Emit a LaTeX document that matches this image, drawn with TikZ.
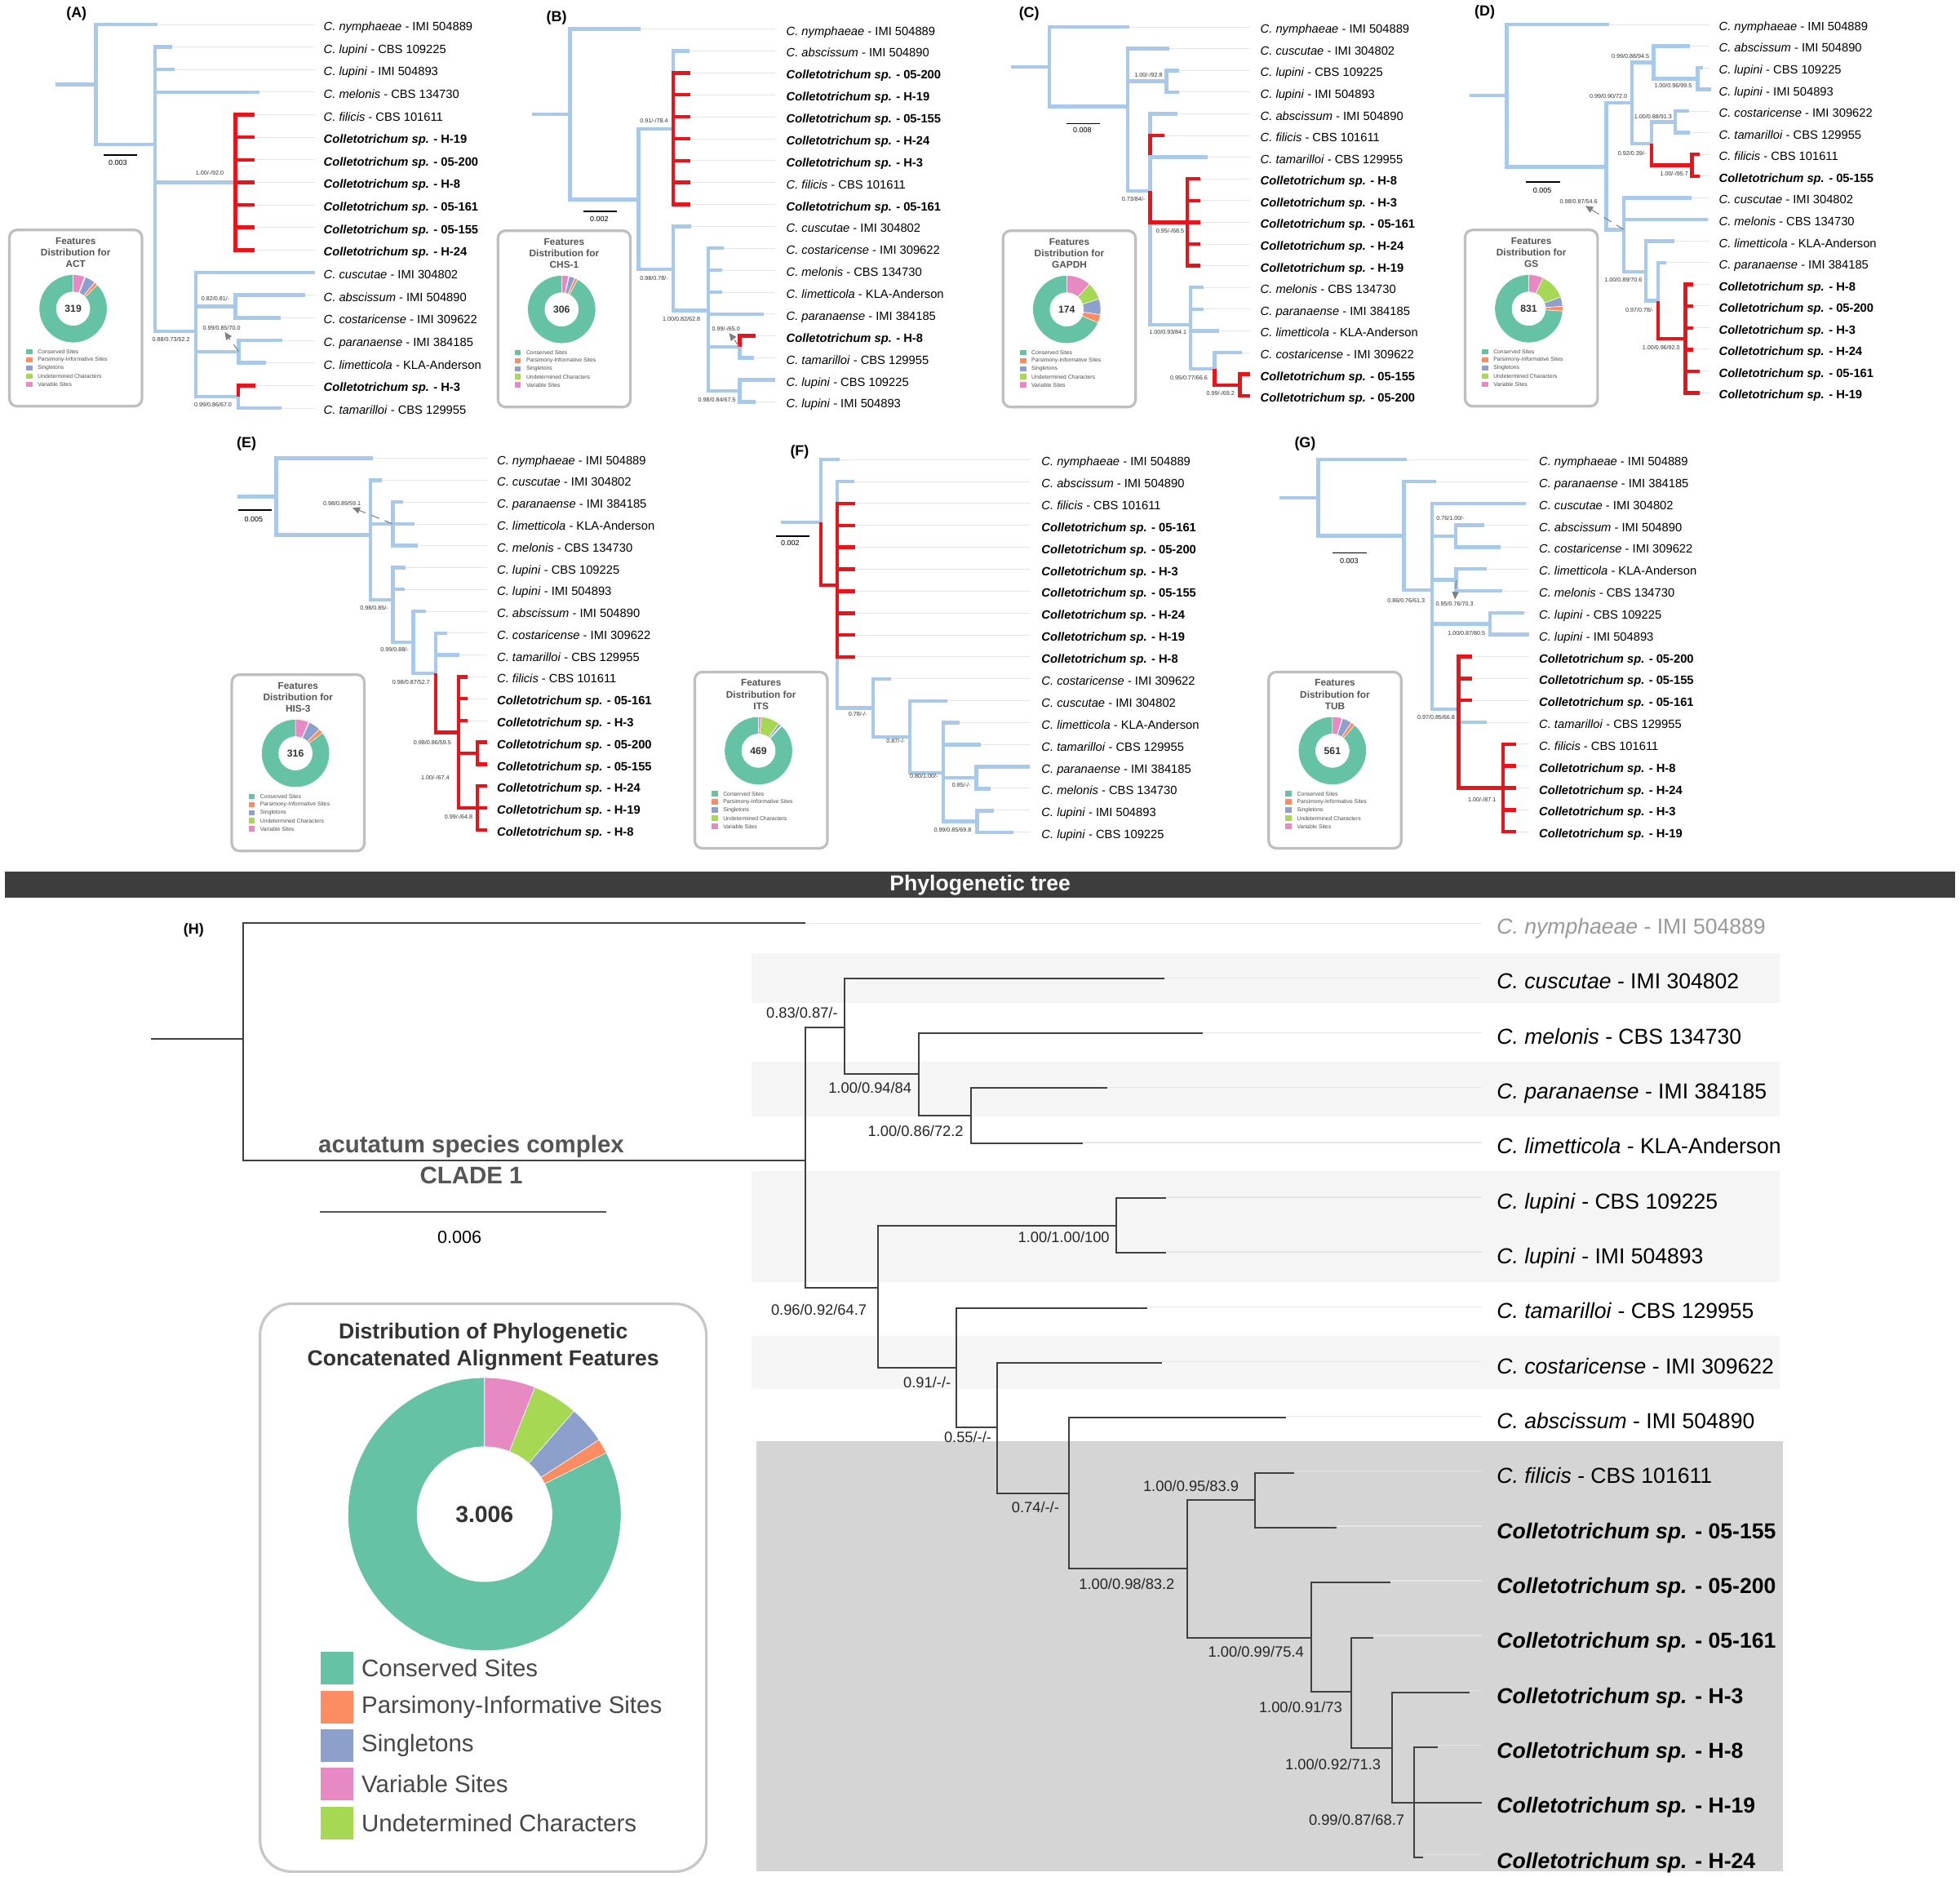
\documentclass[tikz,border=0pt]{standalone}
\usepackage{fontspec}
\setmainfont{Liberation Sans}
\usetikzlibrary{arrows.meta,positioning,calc}

\definecolor{treeblue}{HTML}{A9C9EA}
\definecolor{treered}{HTML}{E8141B}
\definecolor{cteal}{HTML}{66C2A5}
\definecolor{corange}{HTML}{FC8D62}
\definecolor{cblue}{HTML}{8DA0CB}
\definecolor{cpink}{HTML}{E78AC3}
\definecolor{cgreen}{HTML}{A6D854}
\definecolor{barc}{HTML}{3D3D3D}
\definecolor{stripe}{HTML}{F5F5F5}
\definecolor{cladegrey}{HTML}{D5D5D5}
\definecolor{txtgrey}{HTML}{555555}

\newcommand\spname[2]{\textit{C. #1} - #2}
\newcommand\isolate[1]{\textbf{\textit{Colletotrichum sp.} - #1}}

% one tip of a tree: name, row, end of branch, label
\newcommand\tleaf[4]{%
  \coordinate (#1) at (#3,#2);
  \coordinate (#1g) at (\gx,#2);
  \draw[guide] (#1) -- (#1g);
  \node[leaflab] (#1t) at (\tx,#2) {#4};}

% support value at a node
\newcommand\bsv[4]{\node[bsup] (#1) at (#2,#3) {#4};}

% one slice of a ring: centre, outer r, inner r, from, to, colour
\newcommand\ringseg[6]{%
  \filldraw[fill=#6, draw=white, line width=0.15pt]
    ([shift={(#4:#2)}]#1) arc[start angle=#4, end angle=#5, radius=#2]
    -- ([shift={(#5:#3)}]#1) arc[start angle=#5, end angle=#4, radius=#3] -- cycle;}

% ring chart: centre, outer r, inner r, variable, undetermined, singletons, parsimony
\newcommand\donut[7]{%
  \pgfmathsetmacro\dA{90-#4}\pgfmathsetmacro\dB{\dA-#5}%
  \pgfmathsetmacro\dC{\dB-#6}\pgfmathsetmacro\dD{\dC-#7}%
  \ringseg{#1}{#2}{#3}{\dD}{-270}{cteal}
  \ringseg{#1}{#2}{#3}{90}{\dA}{cpink}
  \ringseg{#1}{#2}{#3}{\dA}{\dB}{cgreen}
  \ringseg{#1}{#2}{#3}{\dB}{\dC}{cblue}
  \ringseg{#1}{#2}{#3}{\dC}{\dD}{corange}}

% small box with the features of one gene: name, x, y, gene, total, four slices
\newcommand\featbox[9]{%
  \node[fbox] (#1) at (#2,#3) {};
  \node[ftitle, below=0.1cm of #1.north] (#1t) {Features\\Distribution for\\#4};
  \coordinate (#1c) at ($(#1.north west)+(52,64)$);
  \donut{#1c}{0.408cm}{0.201cm}{#6}{#7}{#8}{#9}
  \node[fnum] (#1n) at (#1c) {#5};
  \foreach \k/\col/\txt in {0/cteal/Conserved Sites,1/corange/Parsimony-Informative Sites,2/cblue/Singletons,3/cgreen/Undetermined Characters,4/cpink/Variable Sites} {
    \node[fkey, fill=\col] (#1k\k) at ($(#1.north west)+(17,98.5+6.5*\k)$) {};
    \node[flegend, right=0.05cm of #1k\k] (#1l\k) {\txt};
  }}

\begin{document}
\begin{tikzpicture}[x=0.015cm, y=-0.015cm,
    br/.style={draw=treeblue, line width=1.25pt},
    rd/.style={draw=treered, line width=1.25pt},
    guide/.style={draw=black!10, line width=0.2pt},
    leaflab/.style={anchor=base west, inner sep=0pt, font=\fontsize{4.1}{5}\selectfont, yshift=-0.074cm},
    bsup/.style={inner sep=0.5pt, text=black!80, font=\fontsize{2}{2.4}\selectfont},
    plab/.style={inner sep=0pt, font=\bfseries\fontsize{5}{6}\selectfont},
    sbar/.style={draw=black, line width=0.5pt},
    slab/.style={inner sep=0pt, font=\fontsize{2.5}{3}\selectfont},
    darr/.style={draw=black!50, densely dashed, line width=0.3pt, -{Triangle[length=0.9mm, width=0.8mm]}},
    fbox/.style={draw=black!25, line width=0.9pt, rounded corners=0.09cm, anchor=north west,
      minimum width=1.59cm, minimum height=2.115cm, inner sep=0pt},
    ftitle/.style={align=center, inner sep=0pt, text=txtgrey, font=\bfseries\fontsize{3.3}{3.95}\selectfont},
    fnum/.style={inner sep=0pt, text=black!80, font=\bfseries\fontsize{3.4}{4}\selectfont},
    fkey/.style={minimum width=0.075cm, minimum height=0.066cm, inner sep=0pt},
    flegend/.style={inner sep=0pt, text=black!70, font=\fontsize{1.9}{2.2}\selectfont},
    hbr/.style={draw=black!75, line width=0.55pt},
    hsup/.style={inner sep=0.5pt, text=black!85, font=\fontsize{5.1}{6}\selectfont},
    bar/.style={fill=barc, text=white, minimum width=23.4cm, minimum height=0.31cm, inner sep=0pt,
      font=\bfseries\fontsize{7.4}{8}\selectfont},
    clade/.style={inner sep=0pt, text=txtgrey, font=\bfseries\fontsize{8.2}{9}\selectfont},
    hbox/.style={draw=black!22, line width=0.9pt, rounded corners=0.375cm, anchor=north west,
      minimum width=5.355cm, minimum height=6.813cm, inner sep=0pt},
    htitle/.style={align=center, inner sep=0pt, text=black!80, font=\bfseries\fontsize{7.4}{9.3}\selectfont},
    hkey/.style={minimum size=0.39cm, inner sep=0pt},
    hlegend/.style={inner sep=0pt, text=black!72, font=\fontsize{8.2}{9}\selectfont}]

\fill[white] (0,0) rectangle (1568,1501);
\useasboundingbox (0,0) rectangle (1568,1501);

% ---------- (A) ACT
\node[plab] (pA) at (61.2,10.8) {(A)};
\def\gx{251.7}\def\tx{258.5}
\begin{scope}[shift={(0,19.5)}, yscale=18.05]
  \tleaf{a0}{0}{125.7}{\spname{nymphaeae}{IMI 504889}}
  \tleaf{a1}{1}{138}{\spname{lupini}{CBS 109225}}
  \tleaf{a2}{2}{139.4}{\spname{lupini}{IMI 504893}}
  \tleaf{a3}{3}{207.3}{\spname{melonis}{CBS 134730}}
  \tleaf{a4}{4}{203.4}{\spname{filicis}{CBS 101611}}
  \tleaf{a5}{5}{203.4}{\isolate{H-19}}
  \tleaf{a6}{6}{203.4}{\isolate{05-200}}
  \tleaf{a7}{7}{203.4}{\isolate{H-8}}
  \tleaf{a8}{8}{203.4}{\isolate{05-161}}
  \tleaf{a9}{9}{203.4}{\isolate{05-155}}
  \tleaf{a10}{10}{203.4}{\isolate{H-24}}
  \tleaf{a11}{11}{251.7}{\spname{cuscutae}{IMI 304802}}
  \tleaf{a12}{12}{244}{\spname{abscissum}{IMI 504890}}
  \tleaf{a13}{13}{224.6}{\spname{costaricense}{IMI 309622}}
  \tleaf{a14}{14}{226}{\spname{paranaense}{IMI 384185}}
  \tleaf{a15}{15}{213}{\spname{limetticola}{KLA-Anderson}}
  \tleaf{a16}{16}{204.4}{\isolate{H-3}}
  \tleaf{a17}{17}{225.3}{\spname{tamarilloi}{CBS 129955}}
  \coordinate (aS) at (44.4,2.66);
  \coordinate (aR) at (76.7,2.66);
  \coordinate (aN1) at (123.9,5.32);
  \coordinate (aC) at (188.4,7);
  \coordinate (aN2) at (156.7,13.6);
  \coordinate (aN3) at (188.4,12.5);
  \coordinate (aN4) at (191,14.5);
  \coordinate (aN5) at (190.5,16.5);
\end{scope}
\draw[br] (aS) -- (aR);
\foreach \c in {a0,aN1} \draw[br] (aR) |- (\c);
\foreach \c in {a1,a2,a3,aC,aN2} \draw[br] (aN1) |- (\c);
\foreach \i in {4,...,10} \draw[rd] (aC) |- (a\i);
\foreach \c in {a11,aN3,aN4,aN5} \draw[br] (aN2) |- (\c);
\foreach \c in {a12,a13} \draw[br] (aN3) |- (\c);
\foreach \c in {a14,a15} \draw[br] (aN4) |- (\c);
\draw[br] (aN5) |- (a17); \draw[rd] (aN5) |- (a16);
\bsv{aL1}{167.8}{138.5}{1.00/-/92.0}
\bsv{aL2}{172.4}{239.2}{0.82/0.81/-}
\bsv{aL3}{177.3}{262.3}{0.99/0.85/70.0}
\bsv{aL4}{136.8}{271.6}{0.88/0.73/52.2}
\bsv{aL5}{170.4}{324}{0.99/0.86/67.0}
\draw[darr] (aN4) -- (aL3);
\draw[sbar] (83.1,124.2) -- (109.7,124.2);
\node[slab] (aSc) at (94.2,130.5) {0.003};
\featbox{aB}{6.5}{182.9}{ACT}{319}{20}{1.5}{18}{6}

% ---------- (B) CHS-1
\node[plab] (pB) at (445.3,14.1) {(B)};
\def\gx{620}\def\tx{628.6}
\begin{scope}[shift={(0,23.2)}, yscale=17.54]
  \tleaf{b0}{0}{512.4}{\spname{nymphaeae}{IMI 504889}}
  \tleaf{b1}{1}{551.6}{\spname{abscissum}{IMI 504890}}
  \tleaf{b2}{2}{552.1}{\isolate{05-200}}
  \tleaf{b3}{3}{552.1}{\isolate{H-19}}
  \tleaf{b4}{4}{552.1}{\isolate{05-155}}
  \tleaf{b5}{5}{552.1}{\isolate{H-24}}
  \tleaf{b6}{6}{552.1}{\isolate{H-3}}
  \tleaf{b7}{7}{552.1}{\spname{filicis}{CBS 101611}}
  \tleaf{b8}{8}{552.1}{\isolate{05-161}}
  \tleaf{b9}{9}{552.9}{\spname{cuscutae}{IMI 304802}}
  \tleaf{b10}{10}{578.7}{\spname{costaricense}{IMI 309622}}
  \tleaf{b11}{11}{577.5}{\spname{melonis}{CBS 134730}}
  \tleaf{b12}{12}{578}{\spname{limetticola}{KLA-Anderson}}
  \tleaf{b13}{13}{611}{\spname{paranaense}{IMI 384185}}
  \tleaf{b14}{14}{604.6}{\isolate{H-8}}
  \tleaf{b15}{15}{603.3}{\spname{tamarilloi}{CBS 129955}}
  \tleaf{b16}{16}{620}{\spname{lupini}{CBS 109225}}
  \tleaf{b17}{17}{604.6}{\spname{lupini}{IMI 504893}}
  \coordinate (bS) at (425.9,3.89);
  \coordinate (bR) at (456.1,3.89);
  \coordinate (bN1) at (510.9,7.78);
  \coordinate (bC) at (538.7,4.55);
  \coordinate (bN2) at (538.7,10.96);
  \coordinate (bN3) at (566.6,12.83);
  \coordinate (bN4) at (591.7,14.5);
  \coordinate (bN5) at (591.7,16.5);
\end{scope}
\draw[br] (bS) -- (bR);
\foreach \c in {b0,bN1} \draw[br] (bR) |- (\c);
\foreach \c in {bC,bN2} \draw[br] (bN1) |- (\c);
\draw[br] (bC) |- (b1);
\foreach \i in {2,...,8} \draw[rd] (bC) |- (b\i);
\foreach \c in {b9,bN3} \draw[br] (bN2) |- (\c);
\foreach \c in {b10,b11,b12,b13,bN4,bN5} \draw[br] (bN3) |- (\c);
\draw[br] (bN4) |- (b15); \draw[rd] (bN4) |- (b14);
\foreach \c in {b16,b17} \draw[br] (bN5) |- (\c);
\bsv{bL1}{523.2}{96.8}{0.91/-/78.4}
\bsv{bL2}{523.2}{222.5}{0.98/0.78/-}
\bsv{bL3}{545.2}{255.4}{1.00/0.82/62.8}
\bsv{bL4}{580.8}{263}{0.99/-/65.0}
\bsv{bL5}{573.6}{319.9}{0.98/0.84/67.5}
\draw[darr] (bN4) -- (bL4);
\draw[sbar] (467,169.3) -- (493.8,169.3);
\node[slab] (bSc) at (479.4,174.9) {0.002};
\featbox{bB}{397.3}{183.5}{CHS-1}{306}{12}{1}{10}{5}

% ---------- (C) GAPDH
\node[plab] (pC) at (823.3,10.8) {(C)};
\def\gx{1000.1}\def\tx{1007.9}
\begin{scope}[shift={(0,21.6)}, yscale=17.36]
  \tleaf{c0}{0}{903.3}{\spname{nymphaeae}{IMI 504889}}
  \tleaf{c1}{1}{935.6}{\spname{cuscutae}{IMI 304802}}
  \tleaf{c2}{2}{943.3}{\spname{lupini}{CBS 109225}}
  \tleaf{c3}{3}{943.3}{\spname{lupini}{IMI 504893}}
  \tleaf{c4}{4}{942}{\spname{abscissum}{IMI 504890}}
  \tleaf{c5}{5}{931.7}{\spname{filicis}{CBS 101611}}
  \tleaf{c6}{6}{966.1}{\spname{tamarilloi}{CBS 129955}}
  \tleaf{c7}{7}{960.1}{\isolate{H-8}}
  \tleaf{c8}{8}{960.1}{\isolate{H-3}}
  \tleaf{c9}{9}{960.1}{\isolate{05-161}}
  \tleaf{c10}{10}{960.1}{\isolate{H-24}}
  \tleaf{c11}{11}{960.1}{\isolate{H-19}}
  \tleaf{c12}{12}{962.7}{\spname{melonis}{CBS 134730}}
  \tleaf{c13}{13}{962.7}{\spname{paranaense}{IMI 384185}}
  \tleaf{c14}{14}{975.1}{\spname{limetticola}{KLA-Anderson}}
  \tleaf{c15}{15}{993.7}{\spname{costaricense}{IMI 309622}}
  \tleaf{c16}{16}{1000.1}{\isolate{05-155}}
  \tleaf{c17}{17}{1000.1}{\isolate{05-200}}
  \coordinate (cS) at (809.1,1.83);
  \coordinate (cR) at (839.6,1.83);
  \coordinate (cN1) at (902,3.66);
  \coordinate (cN2) at (933,2.5);
  \coordinate (cN3) at (920.1,7.55);
  \coordinate (cF) at (920.1,5.9);
  \coordinate (cR2) at (949.8,9);
  \coordinate (cN4) at (952.4,13.72);
  \coordinate (cN5) at (971.7,15.75);
  \coordinate (cR3) at (991.9,16.5);
\end{scope}
\draw[br] (cS) -- (cR);
\foreach \c in {c0,cN1} \draw[br] (cR) |- (\c);
\foreach \c in {c1,cN2,cN3} \draw[br] (cN1) |- (\c);
\foreach \c in {c2,c3} \draw[br] (cN2) |- (\c);
\foreach \c in {c4,c5,c6,cN4} \draw[br] (cN3) |- (\c);
\draw[rd] (cF) |- (c5);
\draw[rd] (cN3) |- (cR2);
\foreach \i in {7,...,11} \draw[rd] (cR2) |- (c\i);
\foreach \c in {c12,c13,c14,cN5} \draw[br] (cN4) |- (\c);
\draw[br] (cN5) |- (c15); \draw[rd] (cN5) |- (cR3);
\foreach \c in {c16,c17} \draw[rd] (cR3) |- (\c);
\bsv{cL1}{918.8}{60}{1.00/-/92.8}
\bsv{cL2}{906.7}{159.1}{0.73/84/-}
\bsv{cL3}{936.1}{184.6}{0.95/-/68.5}
\bsv{cL4}{934.3}{265.8}{1.00/0.93/84.1}
\bsv{cL5}{951.1}{301.9}{0.95/0.77/66.6}
\bsv{cL6}{976.4}{314.9}{0.99/-/69.2}
\draw[sbar] (853,98.9) -- (880.1,98.9);
\node[slab] (cSc) at (865.9,103.9) {0.008};
\featbox{cB}{801.4}{183.5}{GAPDH}{174}{42}{30}{27}{14}

% ---------- (D) GS
\node[plab] (pD) at (1187.8,9.7) {(D)};
\def\gx{1367.8}\def\tx{1374.7}
\begin{scope}[shift={(0,19.5)}, yscale=17.34]
  \tleaf{d0}{0}{1287.5}{\spname{nymphaeae}{IMI 504889}}
  \tleaf{d1}{1}{1352.2}{\spname{abscissum}{IMI 504890}}
  \tleaf{d2}{2}{1362.6}{\spname{lupini}{CBS 109225}}
  \tleaf{d3}{3}{1369.1}{\spname{lupini}{IMI 504893}}
  \tleaf{d4}{4}{1351.4}{\spname{costaricense}{IMI 309622}}
  \tleaf{d5}{5}{1352.2}{\spname{tamarilloi}{CBS 129955}}
  \tleaf{d6}{6}{1360}{\spname{filicis}{CBS 101611}}
  \tleaf{d7}{7}{1360}{\isolate{05-155}}
  \tleaf{d8}{8}{1353}{\spname{cuscutae}{IMI 304802}}
  \tleaf{d9}{9}{1366.5}{\spname{melonis}{CBS 134730}}
  \tleaf{d10}{10}{1339.3}{\spname{limetticola}{KLA-Anderson}}
  \tleaf{d11}{11}{1332.8}{\spname{paranaense}{IMI 384185}}
  \tleaf{d12}{12}{1354.8}{\isolate{H-8}}
  \tleaf{d13}{13}{1354.8}{\isolate{05-200}}
  \tleaf{d14}{14}{1354.8}{\isolate{H-3}}
  \tleaf{d15}{15}{1354.8}{\isolate{H-24}}
  \tleaf{d16}{16}{1360}{\isolate{05-161}}
  \tleaf{d17}{17}{1360}{\isolate{H-19}}
  \coordinate (dS) at (1175.4,3.29);
  \coordinate (dR) at (1205.4,3.29);
  \coordinate (dN1) at (1284.9,6.58);
  \coordinate (dN2) at (1305.6,3.62);
  \coordinate (dN3) at (1323,1.75);
  \coordinate (dN3b) at (1358.2,2.5);
  \coordinate (dN4) at (1321.1,5.5);
  \coordinate (dN5) at (1340,4.5);
  \coordinate (dR1) at (1353.5,6.5);
  \coordinate (dN6) at (1299.1,9.47);
  \coordinate (dN7) at (1316.7,11.42);
  \coordinate (dN8) at (1326.3,12.75);
  \coordinate (dR2) at (1348.3,14.5);
\end{scope}
\draw[br] (dS) -- (dR);
\foreach \c in {d0,dN1} \draw[br] (dR) |- (\c);
\foreach \c in {dN2,dN6} \draw[br] (dN1) |- (\c);
\foreach \c in {dN3,dN4} \draw[br] (dN2) |- (\c);
\foreach \c in {d1,dN3b} \draw[br] (dN3) |- (\c);
\foreach \c in {d2,d3} \draw[br] (dN3b) |- (\c);
\draw[br] (dN4) |- (dN5); \draw[rd] (dN4) |- (dR1);
\foreach \c in {d4,d5} \draw[br] (dN5) |- (\c);
\foreach \c in {d6,d7} \draw[rd] (dR1) |- (\c);
\foreach \c in {d8,d9,dN7} \draw[br] (dN6) |- (\c);
\foreach \c in {d10,dN8} \draw[br] (dN7) |- (\c);
\draw[br] (dN8) |- (d11); \draw[rd] (dN8) |- (dR2);
\foreach \i in {12,...,17} \draw[rd] (dR2) |- (d\i);
\bsv{dL1}{1304.3}{44.8}{0.99/0.88/94.5}
\bsv{dL2}{1286.7}{77.3}{0.99/0.90/72.0}
\bsv{dL3}{1338.5}{68.8}{1.00/0.96/99.5}
\bsv{dL4}{1322.4}{93.5}{1.00/0.88/91.3}
\bsv{dL5}{1305.6}{122.9}{0.92/0.39/-}
\bsv{dL6}{1339.3}{139}{1.00/-/95.7}
\bsv{dL7}{1262.9}{161.3}{0.98/0.87/54.6}
\bsv{dL8}{1298.6}{223.6}{1.00/0.89/70.6}
\bsv{dL9}{1311.6}{247.8}{0.97/0.78/-}
\bsv{dL10}{1328.9}{278.1}{1.00/0.96/92.0}
\draw[darr] (dN6) -- (dL7);
\draw[sbar] (1220.9,145.7) -- (1248.1,145.7);
\node[slab] (dSc) at (1233.9,152.6) {0.005};
\featbox{dB}{1171}{182.9}{GS}{831}{25}{45}{16}{8}

% ---------- (E) HIS-3
\node[plab] (pE) at (197.2,355.1) {(E)};
\def\gx{389.5}\def\tx{397.2}
\begin{scope}[shift={(0,366.6)}, yscale=17.48]
  \tleaf{e0}{0}{298.6}{\spname{nymphaeae}{IMI 504889}}
  \tleaf{e1}{1}{305.6}{\spname{cuscutae}{IMI 304802}}
  \tleaf{e2}{2}{322.6}{\spname{paranaense}{IMI 384185}}
  \tleaf{e3}{3}{331.9}{\spname{limetticola}{KLA-Anderson}}
  \tleaf{e4}{4}{334.2}{\spname{melonis}{CBS 134730}}
  \tleaf{e5}{5}{324.2}{\spname{lupini}{CBS 109225}}
  \tleaf{e6}{6}{323.5}{\spname{lupini}{IMI 504893}}
  \tleaf{e7}{7}{340.5}{\spname{abscissum}{IMI 504890}}
  \tleaf{e8}{8}{357.6}{\spname{costaricense}{IMI 309622}}
  \tleaf{e9}{9}{367.8}{\spname{tamarilloi}{CBS 129955}}
  \tleaf{e10}{10}{374.3}{\spname{filicis}{CBS 101611}}
  \tleaf{e11}{11}{374.3}{\isolate{05-161}}
  \tleaf{e12}{12}{374.3}{\isolate{H-3}}
  \tleaf{e13}{13}{389.5}{\isolate{05-200}}
  \tleaf{e14}{14}{389.5}{\isolate{05-155}}
  \tleaf{e15}{15}{389.5}{\isolate{H-24}}
  \tleaf{e16}{16}{389.5}{\isolate{H-19}}
  \tleaf{e17}{17}{389.5}{\isolate{H-8}}
  \coordinate (eS) at (190.2,1.76);
  \coordinate (eR) at (221,1.76);
  \coordinate (eN1) at (296.2,3.51);
  \coordinate (eN2) at (314.2,3);
  \coordinate (eN3) at (314.2,6.48);
  \coordinate (eN4) at (330.5,8.42);
  \coordinate (eN5) at (348.7,9.84);
  \coordinate (eR1) at (366.9,12.54);
  \coordinate (eR2) at (381.8,13.5);
  \coordinate (eR3) at (381.8,16);
\end{scope}
\draw[br] (eS) -- (eR);
\foreach \c in {e0,eN1} \draw[br] (eR) |- (\c);
\foreach \c in {e1,eN2,eN3} \draw[br] (eN1) |- (\c);
\foreach \c in {e2,e3,e4} \draw[br] (eN2) |- (\c);
\foreach \c in {e5,e6,eN4} \draw[br] (eN3) |- (\c);
\foreach \c in {e7,eN5} \draw[br] (eN4) |- (\c);
\foreach \c in {e8,e9} \draw[br] (eN5) |- (\c);
\draw[rd] (eN5) |- (eR1);
\foreach \c in {e10,e11,e12,eR2,eR3} \draw[rd] (eR1) |- (\c);
\foreach \c in {e13,e14} \draw[rd] (eR2) |- (\c);
\foreach \c in {e15,e16,e17} \draw[rd] (eR3) |- (\c);
\bsv{eL1}{273.6}{402.7}{0.98/0.89/59.1}
\bsv{eL2}{299.3}{486.3}{0.98/0.85/-}
\bsv{eL3}{315.6}{519.6}{0.99/0.88/-}
\bsv{eL4}{328.9}{545.6}{0.98/0.87/52.7}
\bsv{eL5}{345.9}{593.8}{0.98/0.86/59.5}
\bsv{eL6}{348.2}{622}{1.00/-/67.4}
\bsv{eL7}{366.9}{653.4}{0.99/-/64.8}
\draw[darr] (eN2) -- (eL1);
\draw[sbar] (190.7,408.1) -- (217.7,408.1);
\node[slab] (eSc) at (203,415.3) {0.005};
\featbox{eB}{184.4}{538.6}{HIS-3}{316}{23}{1}{21}{8}

% ---------- (F) ITS
\node[plab] (pF) at (639.7,361.6) {(F)};
\def\gx{824}\def\tx{832.8}
\begin{scope}[shift={(0,367.6)}, yscale=17.55]
  \tleaf{f0}{0}{671.7}{\spname{nymphaeae}{IMI 504889}}
  \tleaf{f1}{1}{683.7}{\spname{abscissum}{IMI 504890}}
  \tleaf{f2}{2}{684.2}{\spname{filicis}{CBS 101611}}
  \tleaf{f3}{3}{684.2}{\isolate{05-161}}
  \tleaf{f4}{4}{684.2}{\isolate{05-200}}
  \tleaf{f5}{5}{684.2}{\isolate{H-3}}
  \tleaf{f6}{6}{684.2}{\isolate{05-155}}
  \tleaf{f7}{7}{684.2}{\isolate{H-24}}
  \tleaf{f8}{8}{684.2}{\isolate{H-19}}
  \tleaf{f9}{9}{684.2}{\isolate{H-8}}
  \tleaf{f10}{10}{712.9}{\spname{costaricense}{IMI 309622}}
  \tleaf{f11}{11}{757.8}{\spname{cuscutae}{IMI 304802}}
  \tleaf{f12}{12}{767.8}{\spname{limetticola}{KLA-Anderson}}
  \tleaf{f13}{13}{784.6}{\spname{tamarilloi}{CBS 129955}}
  \tleaf{f14}{14}{824}{\spname{paranaense}{IMI 384185}}
  \tleaf{f15}{15}{792.8}{\spname{melonis}{CBS 134730}}
  \tleaf{f16}{16}{795.3}{\spname{lupini}{IMI 504893}}
  \tleaf{f17}{17}{811}{\spname{lupini}{CBS 109225}}
  \coordinate (fS) at (625,2.86);
  \coordinate (fR) at (656.7,2.86);
  \coordinate (fN1) at (669.7,5.72);
  \coordinate (fN2) at (698.6,11.32);
  \coordinate (fN3) at (727.9,12.64);
  \coordinate (fN4) at (754.6,14.28);
  \coordinate (fN5) at (781.1,14.5);
  \coordinate (fN6) at (781.6,16.5);
\end{scope}
\draw[br] (fS) -- (fR);
\draw[br] (fR) |- (f0); \draw[rd] (fR) |- (fN1);
\foreach \c in {f1,fN2} \draw[br] (fN1) |- (\c);
\foreach \i in {2,...,9} \draw[rd] (fN1) |- (f\i);
\foreach \c in {f10,fN3} \draw[br] (fN2) |- (\c);
\foreach \c in {f11,fN4} \draw[br] (fN3) |- (\c);
\foreach \c in {f12,f13,fN5,fN6} \draw[br] (fN4) |- (\c);
\foreach \c in {f14,f15} \draw[br] (fN5) |- (\c);
\foreach \c in {f16,f17} \draw[br] (fN6) |- (\c);
\bsv{fL1}{686.2}{571.1}{0.78/-/-}
\bsv{fL2}{716.6}{592.8}{0.87/-/-}
\bsv{fL3}{739.1}{620.9}{0.80/1.00/-}
\bsv{fL4}{769.1}{627.8}{0.85/-/-}
\bsv{fL5}{762.1}{663.8}{0.99/0.85/69.8}
\draw[sbar] (620.5,428.7) -- (647.4,428.7);
\node[slab] (fSc) at (632.2,434.3) {0.002};
\featbox{fB}{554.8}{536.5}{ITS}{469}{5}{32}{5}{1}

% ---------- (G) TUB
\node[plab] (pG) at (1044.1,355.1) {(G)};
\def\gx{1223}\def\tx{1230.8}
\begin{scope}[shift={(0,367.6)}, yscale=17.51]
  \tleaf{g0}{0}{1125.7}{\spname{nymphaeae}{IMI 504889}}
  \tleaf{g1}{1}{1149}{\spname{paranaense}{IMI 384185}}
  \tleaf{g2}{2}{1220.5}{\spname{cuscutae}{IMI 304802}}
  \tleaf{g3}{3}{1187.7}{\spname{abscissum}{IMI 504890}}
  \tleaf{g4}{4}{1200.6}{\spname{costaricense}{IMI 309622}}
  \tleaf{g5}{5}{1189.5}{\spname{limetticola}{KLA-Anderson}}
  \tleaf{g6}{6}{1201.6}{\spname{melonis}{CBS 134730}}
  \tleaf{g7}{7}{1219.2}{\spname{lupini}{CBS 109225}}
  \tleaf{g8}{8}{1223}{\spname{lupini}{IMI 504893}}
  \tleaf{g9}{9}{1177.9}{\isolate{05-200}}
  \tleaf{g10}{10}{1177.9}{\isolate{05-155}}
  \tleaf{g11}{11}{1177.9}{\isolate{05-161}}
  \tleaf{g12}{12}{1189.5}{\spname{tamarilloi}{CBS 129955}}
  \tleaf{g13}{13}{1212.7}{\spname{filicis}{CBS 101611}}
  \tleaf{g14}{14}{1212.7}{\isolate{H-8}}
  \tleaf{g15}{15}{1212.7}{\isolate{H-24}}
  \tleaf{g16}{16}{1212.7}{\isolate{H-3}}
  \tleaf{g17}{17}{1212.7}{\isolate{H-19}}
  \coordinate (gS) at (1023.5,1.74);
  \coordinate (gR) at (1054.5,1.74);
  \coordinate (gN1) at (1123.1,3.49);
  \coordinate (gN2) at (1145.6,5.97);
  \coordinate (gN3) at (1164.4,3.5);
  \coordinate (gN4) at (1165,5.5);
  \coordinate (gN5) at (1192.1,7.5);
  \coordinate (gC) at (1167,11.4);
  \coordinate (gR2) at (1202.4,15);
\end{scope}
\draw[br] (gS) -- (gR);
\foreach \c in {g0,gN1} \draw[br] (gR) |- (\c);
\foreach \c in {g1,gN2} \draw[br] (gN1) |- (\c);
\foreach \c in {g2,gN3,gN4,gN5,gC} \draw[br] (gN2) |- (\c);
\foreach \c in {g3,g4} \draw[br] (gN3) |- (\c);
\foreach \c in {g5,g6} \draw[br] (gN4) |- (\c);
\foreach \c in {g7,g8} \draw[br] (gN5) |- (\c);
\draw[br] (gC) |- (g12);
\foreach \c in {g9,g10,g11,gR2} \draw[rd] (gC) |- (\c);
\foreach \i in {13,...,17} \draw[rd] (gR2) |- (g\i);
\bsv{gL1}{1160.3}{414.8}{0.76/1.00/-}
\bsv{gL2}{1124.9}{480.6}{0.86/0.76/61.3}
\bsv{gL3}{1163.7}{482.8}{0.95/0.76/70.3}
\bsv{gL4}{1173.2}{506.2}{1.00/0.87/80.5}
\bsv{gL5}{1148.9}{573.7}{0.97/0.85/66.8}
\bsv{gL6}{1185.6}{639.7}{1.00/-/87.1}
\draw[darr] (gN4) -- (gL3);
\draw[sbar] (1066.3,442.3) -- (1093.5,442.3);
\node[slab] (gSc) at (1079.3,448.8) {0.003};
\featbox{gB}{1013.9}{536.5}{TUB}{561}{17}{1}{16}{7}

% ---------- (H) concatenated tree
\node[bar] (hdr) at (784.1,707.75) {Phylogenetic tree};
% row shading
\fill[stripe] (601,762.4) rectangle (1423.5,802.6);
\fill[stripe] (601,849.2) rectangle (1423.5,893);
\fill[stripe] (601,936.7) rectangle (1423.5,1025.5);
\fill[stripe] (601,1068.5) rectangle (1423.5,1111);
\fill[cladegrey] (605.4,1152.7) rectangle (1426.2,1497);
\node[plab] (pH) at (154.9,744.4) {(H)};
\tikzset{leaflab/.style={anchor=base west, inner sep=0pt, font=\fontsize{7.4}{9}\selectfont, yshift=-0.13cm},
  guide/.style={draw=black!10, line width=0.4pt}}
\def\gx{1185.4}\def\tx{1197}
\begin{scope}[shift={(0,738.5)}, yscale=43.95]
  \tleaf{h0}{0}{644.3}{\textcolor{black!40}{\spname{nymphaeae}{IMI 504889}}}
  \tleaf{h1}{1}{931.7}{\spname{cuscutae}{IMI 304802}}
  \tleaf{h2}{2}{962.5}{\spname{melonis}{CBS 134730}}
  \tleaf{h3}{3}{885.7}{\spname{paranaense}{IMI 384185}}
  \tleaf{h4}{4}{866.2}{\spname{limetticola}{KLA-Anderson}}
  \tleaf{h5}{5}{932.7}{\spname{lupini}{CBS 109225}}
  \tleaf{h6}{6}{932.7}{\spname{lupini}{IMI 504893}}
  \tleaf{h7}{7}{917.6}{\spname{tamarilloi}{CBS 129955}}
  \tleaf{h8}{8}{929.5}{\spname{costaricense}{IMI 309622}}
  \tleaf{h9}{9}{1028.5}{\spname{abscissum}{IMI 504890}}
  \tleaf{h10}{10}{1035.6}{\spname{filicis}{CBS 101611}}
  \tleaf{h11}{11}{1069.1}{\isolate{05-155}}
  \tleaf{h12}{12}{1112.4}{\isolate{05-200}}
  \tleaf{h13}{13}{1098.9}{\isolate{05-161}}
  \tleaf{h14}{14}{1175.7}{\isolate{H-3}}
  \tleaf{h15}{15}{1150.3}{\isolate{H-8}}
  \tleaf{h16}{16}{1185.4}{\isolate{H-19}}
  \tleaf{h17}{17}{1138.4}{\isolate{H-24}}
  \coordinate (hS) at (120.7,2.1);
  \coordinate (hR) at (194.8,2.1);
  \coordinate (hA) at (644.3,4.32);
  \coordinate (hB) at (675.7,1.89);
  \coordinate (hC) at (735.2,2.75);
  \coordinate (hD) at (776.9,3.5);
  \coordinate (hE) at (702.2,6.63);
  \coordinate (hF) at (893.2,5.5);
  \coordinate (hG) at (765,8.09);
  \coordinate (hH) at (797.5,9.17);
  \coordinate (hI) at (855.4,10.38);
  \coordinate (hJ) at (950,11.74);
  \coordinate (hK) at (1004.2,10.5);
  \coordinate (hL) at (1049.1,13);
  \coordinate (hM) at (1081,13.99);
  \coordinate (hN) at (1113.5,15.01);
  \coordinate (hO) at (1131.3,16);
\end{scope}
\draw[hbr] (hS) -- (hR);
\foreach \c in {h0,hA} \draw[hbr] (hR) |- (\c);
\foreach \c in {hB,hE} \draw[hbr] (hA) |- (\c);
\foreach \c in {h1,hC} \draw[hbr] (hB) |- (\c);
\foreach \c in {h2,hD} \draw[hbr] (hC) |- (\c);
\foreach \c in {h3,h4} \draw[hbr] (hD) |- (\c);
\foreach \c in {hF,hG} \draw[hbr] (hE) |- (\c);
\foreach \c in {h5,h6} \draw[hbr] (hF) |- (\c);
\foreach \c in {h7,hH} \draw[hbr] (hG) |- (\c);
\foreach \c in {h8,hI} \draw[hbr] (hH) |- (\c);
\foreach \c in {h9,hJ} \draw[hbr] (hI) |- (\c);
\foreach \c in {hK,hL} \draw[hbr] (hJ) |- (\c);
\foreach \c in {h10,h11} \draw[hbr] (hK) |- (\c);
\foreach \c in {h12,hM} \draw[hbr] (hL) |- (\c);
\foreach \c in {h13,hN} \draw[hbr] (hM) |- (\c);
\foreach \c in {h14,h16} \draw[hbr] (hN) |- (\c);
\foreach \c in {h15,h17} \draw[hbr] (hO) |- (\c);
\node[hsup] (hL1) at (641.6,809.9) {0.83/0.87/-};
\node[hsup] (hL2) at (696,870.2) {1.00/0.94/84};
\node[hsup] (hL3) at (732.5,904.8) {1.00/0.86/72.2};
\node[hsup] (hL4) at (851,989.5) {1.00/1.00/100};
\node[hsup] (hL5) at (655.1,1047.5) {0.96/0.92/64.7};
\node[hsup] (hL6) at (741.7,1105.6) {0.91/-/-};
\node[hsup] (hL7) at (774.2,1149.7) {0.55/-/-};
\node[hsup] (hL8) at (828.3,1205.9) {0.74/-/-};
\node[hsup] (hL9) at (952.8,1188.6) {1.00/0.95/83.9};
\node[hsup] (hL10) at (901.4,1267.3) {1.00/0.98/83.2};
\node[hsup] (hL11) at (1004.8,1321.5) {1.00/0.99/75.4};
\node[hsup] (hL12) at (1040.5,1365.5) {1.00/0.91/73};
\node[hsup] (hL13) at (1066.4,1411.5) {1.00/0.92/71.3};
\node[hsup] (hL14) at (1085.3,1455.6) {0.99/0.87/68.7};

% clade name and scale
\node[clade] (cname) at (377,917) {acutatum species complex};
\node[clade] (cnum) at (377,940) {CLADE 1};
\draw[draw=txtgrey, line width=0.6pt] (256.2,969.6) -- (485,969.6);
\node[inner sep=0pt, font=\fontsize{6}{7}\selectfont] (hsc) at (367.6,989.6) {0.006};

% features of the concatenated alignment
\node[hbox] (hBx) at (207,1041.8) {};
\node[htitle, below=0.24cm of hBx.north] (hBt) {Distribution of Phylogenetic\\Concatenated Alignment Features};
\coordinate (hBc) at (387.6,1211.2);
\donut{hBc}{1.638cm}{0.81cm}{21.7}{19.3}{16}{6.2}
\node[inner sep=0pt, text=black!80, font=\bfseries\fontsize{7.9}{9}\selectfont] (hBn) at (hBc) {3.006};
\foreach \k/\col/\txt in {0/cteal/Conserved Sites,1/corange/Parsimony-Informative Sites,2/cblue/Singletons,3/cpink/Variable Sites,4/cgreen/Undetermined Characters} {
  \node[hkey, fill=\col] (hk\k) at (269.4,1334.5+30.9*\k) {};
  \node[hlegend, right=0.09cm of hk\k] (hl\k) {\txt};
}
\end{tikzpicture}
\end{document}
